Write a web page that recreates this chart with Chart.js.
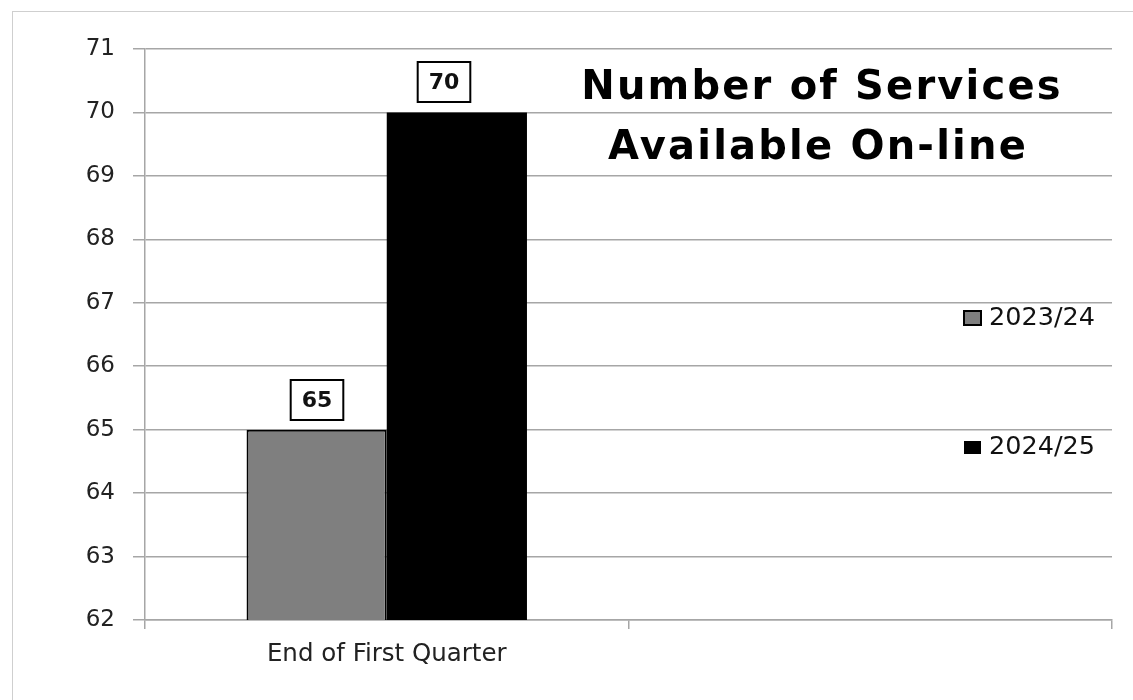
<!DOCTYPE html>
<html>
<head>
<meta charset="utf-8">
<title>Number of Services Available On-line</title>
<script src="https://cdn.jsdelivr.net/npm/chart.js@4.4.1/dist/chart.umd.min.js"></script>
<style>
  html, body { margin: 0; padding: 0; background: #fff; }
  #wrap { position: relative; width: 1133px; height: 700px; }
</style>
</head>
<body>
<div id="wrap"><canvas id="chart" width="1133" height="700"></canvas></div>
<script>
// chart data
const categories = ['End of First Quarter', ''];
const seriesLabels = ['2023/24', '2024/25'];
const values2023 = [65, null];
const values2024 = [70, null];
const yMin = 62;
const yMax = 71;
const titleLines = ['Number of Services', 'Available On-line'];

const FONT = '"DejaVu Sans", "Liberation Sans", sans-serif';

// outer frame
const framePlugin = {
  id: 'frame',
  beforeDraw(chart) {
    const ctx = chart.ctx;
    ctx.save();
    ctx.fillStyle = '#fff';
    ctx.fillRect(0, 0, chart.width, chart.height);
    ctx.strokeStyle = '#cfcfcf';
    ctx.lineWidth = 1;
    ctx.strokeRect(12.5, 11.5, chart.width + 20, chart.height + 20);
    ctx.restore();
  }
};

// boxed value labels above the bars
const valueBoxes = {
  id: 'valueBoxes',
  afterDatasetsDraw(chart) {
    const ctx = chart.ctx;
    const shift = [0, -13];
    ctx.save();
    ctx.font = 'bold 22px ' + FONT;
    ctx.textAlign = 'center';
    ctx.textBaseline = 'middle';
    chart.data.datasets.forEach((ds, di) => {
      const meta = chart.getDatasetMeta(di);
      meta.data.forEach((bar, i) => {
        const v = ds.data[i];
        if (v == null) return;
        const text = String(v);
        const w = ctx.measureText(text).width + 22;
        const h = 40;
        const cx = Math.round(bar.x + shift[di]);
        const bottom = Math.round(bar.y - 10);
        ctx.fillStyle = '#fff';
        ctx.fillRect(cx - w / 2, bottom - h, w, h);
        ctx.strokeStyle = '#000';
        ctx.lineWidth = 2;
        ctx.strokeRect(cx - w / 2, bottom - h, w, h);
        ctx.fillStyle = '#111';
        ctx.fillText(text, cx, bottom - h / 2 + 1);
      });
    });
    ctx.restore();
  }
};

// title and legend drawn inside the plot area
const overlay = {
  id: 'overlay',
  afterDraw(chart) {
    const ctx = chart.ctx;
    ctx.save();
    ctx.fillStyle = '#000';
    ctx.font = 'bold 40px ' + FONT;
    ctx.letterSpacing = '2.2px';
    ctx.textAlign = 'center';
    ctx.textBaseline = 'alphabetic';
    ctx.fillText(titleLines[0], 822, 99);
    ctx.fillText(titleLines[1], 818, 159);
    ctx.letterSpacing = '0px';

    const baselines = [325, 454];
    ctx.font = '25.5px ' + FONT;
    ctx.textAlign = 'left';
    chart.data.datasets.forEach((ds, i) => {
      const base = baselines[i];
      ctx.fillStyle = ds.backgroundColor;
      if (ds.borderWidth) {
        ctx.fillRect(964, base - 14, 17, 14);
        ctx.strokeStyle = '#000';
        ctx.lineWidth = 2;
        ctx.strokeRect(964, base - 14, 17, 14);
      } else {
        ctx.fillRect(964, base - 13, 17, 13);
      }
      ctx.fillStyle = '#111';
      ctx.fillText(ds.label, 989, base);
    });
    ctx.restore();
  }
};

const ctx = document.getElementById('chart').getContext('2d');
new Chart(ctx, {
  type: 'bar',
  data: {
    labels: categories,
    datasets: [
      {
        label: seriesLabels[0],
        data: values2023,
        backgroundColor: '#7f7f7f',
        borderColor: '#000',
        borderWidth: 2,
        borderSkipped: false,
        categoryPercentage: 0.58,
        barPercentage: 1.0
      },
      {
        label: seriesLabels[1],
        data: values2024,
        backgroundColor: '#000',
        borderWidth: 0,
        categoryPercentage: 0.58,
        barPercentage: 1.0
      }
    ]
  },
  options: {
    responsive: false,
    animation: false,
    layout: {
      padding: { top: 49, right: 21, bottom: 0, left: 0 }
    },
    plugins: {
      legend: { display: false },
      title: { display: false },
      tooltip: { enabled: false }
    },
    scales: {
      x: {
        offset: true,
        grid: {
          offset: true,
          drawOnChartArea: false,
          drawTicks: true,
          tickLength: 9,
          color: '#a6a6a6',
          lineWidth: 1.5
        },
        border: { color: '#a6a6a6', width: 1.5 },
        ticks: {
          color: '#222',
          padding: 11,
          font: { family: FONT, size: 24.5 }
        },
        afterFit(scale) { scale.height = 80; }
      },
      y: {
        min: yMin,
        max: yMax,
        ticks: {
          stepSize: 1,
          color: '#222',
          padding: 18,
          font: { family: FONT, size: 23 }
        },
        grid: {
          color: '#a6a6a6',
          lineWidth: 1.5,
          tickLength: 12
        },
        border: { color: '#a6a6a6', width: 1.5 },
        afterFit(scale) { scale.width = 145; }
      }
    }
  },
  plugins: [framePlugin, valueBoxes, overlay]
});
</script>
</body>
</html>
